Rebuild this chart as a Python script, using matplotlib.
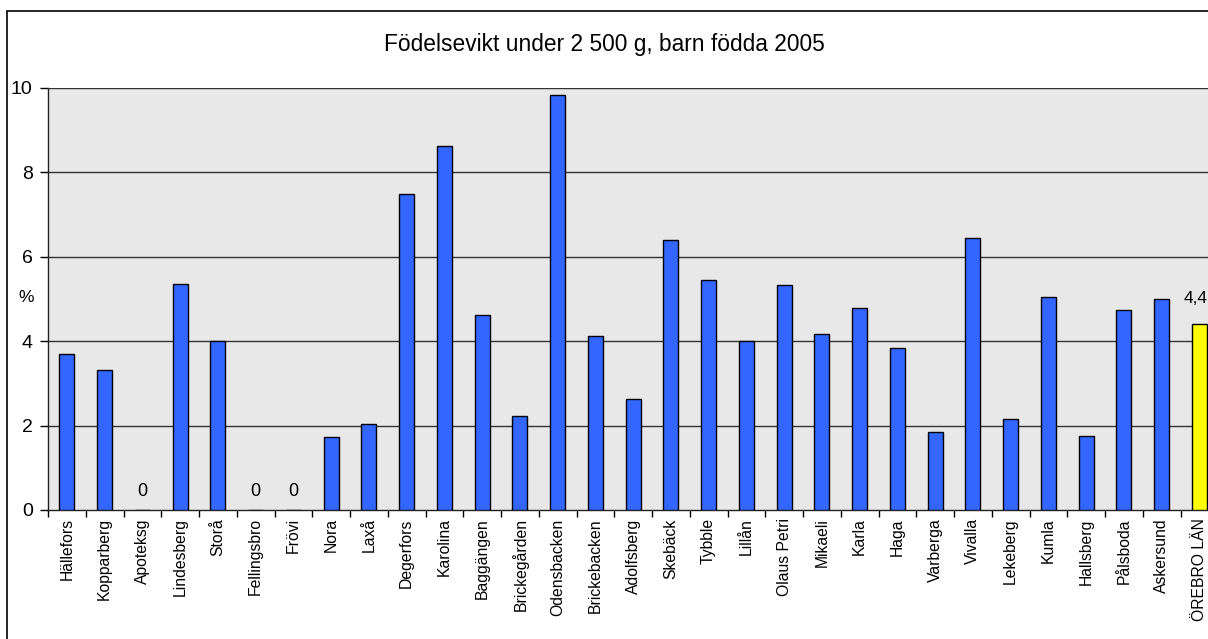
import matplotlib.pyplot as plt
from matplotlib.patches import Rectangle

plt.rcParams["font.family"] = ["Liberation Sans", "DejaVu Sans"]

areas = [
    "Hällefors", "Kopparberg", "Apoteksg", "Lindesberg", "Storå", "Fellingsbro",
    "Frövi", "Nora", "Laxå", "Degerfors", "Karolina", "Baggängen", "Brickegården",
    "Odensbacken", "Brickebacken", "Adolfsberg", "Skebäck", "Tybble", "Lillån",
    "Olaus Petri", "Mikaeli", "Karla", "Haga", "Varberga", "Vivalla", "Lekeberg",
    "Kumla", "Hallsberg", "Pålsboda", "Askersund", "ÖREBRO LÄN",
]
pct = [
    3.69, 3.32, 0.0, 5.35, 4.0, 0.0,
    0.0, 1.74, 2.04, 7.49, 8.63, 4.62, 2.23,
    9.83, 4.12, 2.63, 6.40, 5.46, 4.0,
    5.33, 4.16, 4.79, 3.83, 1.84, 6.45, 2.16,
    5.05, 1.75, 4.75, 4.99, 4.4,
]
title = "Födelsevikt under 2 500 g, barn födda 2005"
yticks = [0, 2, 4, 6, 8, 10]

W, H = 1208, 639
fig = plt.figure(figsize=(W / 100, H / 100), dpi=100)
fig.patch.set_facecolor("white")

# outer chart frame (runs off the right and bottom edges)
fig.patches.append(Rectangle((7.5 / W, -0.05), 1.2, 1 - 11 / H + 0.05,
                             transform=fig.transFigure, fill=False,
                             edgecolor="black", lw=1.2))

left, right = 48 / W, 1218.25 / W
bottom, top = (H - 510) / H, (H - 88) / H
ax = fig.add_axes([left, bottom, right - left, top - bottom])
ax.set_facecolor("#e8e8e8")

x = list(range(len(areas)))
colors = ["#3366ff"] * (len(areas) - 1) + ["#ffff00"]
ax.bar(x, pct, width=0.4, color=colors, edgecolor="black", lw=1, zorder=3)

ax.set_xlim(-0.5, len(areas) - 0.5)
ax.set_ylim(0, 10)
ax.set_yticks(yticks)
ax.set_yticklabels([str(v) for v in yticks], fontsize=14)
for v in yticks[1:]:
    ax.axhline(v, color="#333333", lw=1, zorder=1)

ax.set_xticks([i - 0.5 for i in range(len(areas) + 1)])
ax.set_xticklabels([])
ax.set_xticks(x, minor=True)
ax.set_xticklabels(areas, minor=True, rotation=90, fontsize=11.3)
ax.tick_params(axis="x", which="minor", length=0, pad=6)
ax.tick_params(axis="x", which="major", length=5, direction="out", width=1)
ax.tick_params(axis="y", length=6, direction="out", width=1, pad=5)

for s in ["top", "right"]:
    ax.spines[s].set_visible(False)
for s in ["left", "bottom"]:
    ax.spines[s].set_color("#222222")
    ax.spines[s].set_linewidth(1)

# value labels shown only for zero bars and the county total
for i, v in enumerate(pct):
    if v == 0:
        ax.annotate("0", (i, v), xytext=(0, 13.5), textcoords="offset points",
                    ha="center", va="center", fontsize=13)
    elif i == len(pct) - 1:
        lab = f"{v:.1f}".replace(".", ",")
        ax.annotate(lab, (i, v), xytext=(6, 13), textcoords="offset points",
                    ha="right", va="bottom", fontsize=12.5,
                    annotation_clip=False)

fig.text(26 / W, 1 - 297 / H, "%", ha="center", va="center", fontsize=12.5)
fig.text(0.5, 1 - 45 / H, title, ha="center", va="center", fontsize=16.4)

fig.savefig("out.png", dpi=100)
